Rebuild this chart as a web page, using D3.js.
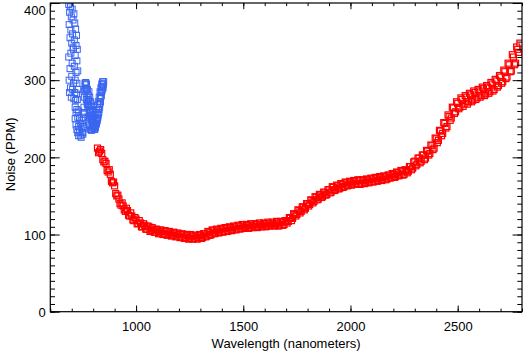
<!DOCTYPE html>
<html>
<head>
<meta charset="utf-8">
<script src="https://cdn.jsdelivr.net/npm/d3@7"></script>
<style>
  body { margin: 0; background: #fff; }
  svg { display: block; }
  text { font-family: "Liberation Sans", Arial, Helvetica, sans-serif; font-size: 13px; fill: #000; }
</style>
</head>
<body>
<div id="chart"></div>
<script>
// short-wavelength channel (blue): a scattered column, then the V
const blueWave = [
  686, 686, 688, 688, 690, 690, 692, 692, 694, 694, 696, 696, 698, 698, 700, 700, 702, 702,
  704, 704, 706, 706, 708, 708, 710, 710, 712, 712, 714, 714, 716, 716, 718, 718, 720, 720,
  722, 722, 724, 724, 726, 726, 728, 728,
  716, 716, 720, 720, 724, 724, 728, 728, 732, 732, 732, 736, 736, 740, 740, 744, 744,
  748, 748, 752, 752, 756, 756,
  751, 753, 755, 757, 759, 761, 763, 765, 767, 769, 771, 773, 775, 777, 779, 781, 783, 785, 787,
  789, 791, 793, 795, 797, 799, 801, 803, 805, 807, 809, 811, 813, 815, 817, 819, 821, 823, 825, 827,
  829, 831, 833, 835, 837, 839, 841, 843, 845, 847,
  754, 758, 762, 766, 770, 774, 778, 782, 786, 790, 794, 798, 802, 806, 810, 814, 818, 822, 826, 830,
  834, 838, 842, 846, 849,
  768, 772, 776, 780, 784, 788, 792, 796, 800, 804, 808, 812, 816, 820, 824, 828, 832, 836, 840, 844,
  776, 780, 784, 788, 792, 796];
const blueNoise = [
  398, 330, 372, 300, 388, 284, 355, 315, 395, 290, 365, 335, 382, 278, 348, 305, 392, 322,
  360, 288, 378, 342, 340, 296, 386, 276, 352, 318, 374, 284, 332, 300, 366, 274, 345, 310,
  358, 282, 325, 296, 340, 275, 312, 288,
  265, 250, 258, 242, 262, 236, 252, 232, 260, 240, 228, 250, 234, 244, 228, 238, 226,
  248, 232, 242, 230, 256, 238,
  232, 240, 252, 265, 278, 288, 294, 297, 290, 295, 282, 288, 275, 280, 268, 273, 262, 266, 255,
  260, 250, 254, 245, 249, 241, 245, 238, 242, 237, 243, 240, 246, 244, 250, 249, 256, 255, 262, 262,
  269, 270, 276, 278, 284, 285, 291, 292, 296, 294,
  258, 285, 296, 286, 288, 268, 272, 258, 260, 248, 250, 238, 240, 236, 238, 243, 247, 252, 258, 265,
  272, 280, 287, 290, 298,
  275, 270, 265, 285, 278, 272, 266, 262, 256, 252, 255, 258, 262, 268, 272, 278, 285, 290, 295, 298,
  252, 246, 242, 236, 235, 236];

// long-wavelength channel (red)
const redWave = [820, 830, 840, 850, 860, 870, 880, 890, 900, 910, 920, 930, 940, 950, 960, 970, 980, 990,
  1000, 1010, 1020, 1030, 1040, 1050, 1060, 1070, 1080, 1090, 1100, 1110, 1120, 1130, 1140, 1150, 1160, 1170, 1180, 1190,
  1200, 1210, 1220, 1230, 1240, 1250, 1260, 1270, 1280, 1290, 1300, 1310, 1320, 1330, 1340, 1350, 1360, 1370, 1380, 1390,
  1400, 1410, 1420, 1430, 1440, 1450, 1460, 1470, 1480, 1490, 1500, 1510, 1520, 1530, 1540, 1550, 1560, 1570, 1580, 1590,
  1600, 1610, 1620, 1630, 1640, 1650, 1660, 1670, 1680, 1690, 1700, 1710, 1720, 1730, 1740, 1750, 1760, 1770, 1780, 1790,
  1800, 1810, 1820, 1830, 1840, 1850, 1860, 1870, 1880, 1890, 1900, 1910, 1920, 1930, 1940, 1950, 1960, 1970, 1980, 1990,
  2000, 2010, 2020, 2030, 2040, 2050, 2060, 2070, 2080, 2090, 2100, 2110, 2120, 2130, 2140, 2150, 2160, 2170, 2180, 2190,
  2200, 2210, 2220, 2230, 2240, 2250, 2260, 2270, 2280, 2290, 2300, 2310, 2320, 2330, 2340, 2350, 2360, 2370, 2380, 2390,
  2400, 2410, 2420, 2430, 2440, 2450, 2460, 2470, 2480, 2490, 2500, 2510, 2520, 2530, 2540, 2550, 2560, 2570, 2580, 2590,
  2600, 2610, 2620, 2630, 2640, 2650, 2660, 2670, 2680, 2690, 2700, 2710, 2720, 2730, 2740, 2750, 2760, 2770, 2780, 2790];
const redNoise = [212, 208, 205, 194, 192, 181, 178, 167, 163, 150, 146, 138, 137, 130, 131, 124, 124, 118,
  120, 114, 115, 110, 112, 107, 110, 105, 107, 103, 106, 102, 104, 101, 104, 100, 102, 99, 102, 98,
  100, 97, 100, 96, 99, 95, 98, 95, 98, 96, 99, 96, 101, 98, 103, 100, 105, 102, 106, 103,
  107, 104, 108, 105, 109, 106, 110, 107, 111, 108, 111, 109, 112, 109, 112, 110, 113, 110, 113, 111,
  114, 111, 114, 112, 114, 112, 115, 112, 116, 113, 117, 117, 121, 121, 126, 126, 131, 130, 135, 134,
  140, 139, 144, 143, 148, 146, 151, 149, 154, 152, 158, 155, 161, 158, 163, 160, 165, 162, 167, 164,
  168, 165, 169, 166, 170, 166, 170, 167, 171, 168, 172, 169, 173, 170, 174, 171, 175, 172, 177, 174,
  178, 175, 180, 177, 182, 178, 183, 182, 188, 186, 195, 191, 199, 195, 203, 199, 208, 205, 215, 212,
  224, 222, 234, 231, 244, 240, 253, 251, 264, 259, 270, 265, 275, 269, 278, 272, 281, 274, 284, 277,
  286, 280, 289, 282, 291, 285, 295, 288, 299, 293, 304, 298, 311, 304, 320, 312, 330, 322, 340, 348];

// second pass of the red channel, interleaved wavelengths
const redWave2 = [825, 835, 845, 855, 865, 875, 885, 895, 905, 915, 925, 935, 945, 955, 965, 975, 985, 995,
  1005, 1015, 1025, 1035, 1045, 1055, 1065, 1075, 1085, 1095, 1105, 1115, 1125, 1135, 1145, 1155, 1165, 1175, 1185, 1195,
  1205, 1215, 1225, 1235, 1245, 1255, 1265, 1275, 1285, 1295, 1305, 1315, 1325, 1335, 1345, 1355, 1365, 1375, 1385, 1395,
  1405, 1415, 1425, 1435, 1445, 1455, 1465, 1475, 1485, 1495, 1505, 1515, 1525, 1535, 1545, 1555, 1565, 1575, 1585, 1595,
  1605, 1615, 1625, 1635, 1645, 1655, 1665, 1675, 1685, 1695, 1705, 1715, 1725, 1735, 1745, 1755, 1765, 1775, 1785, 1795,
  1805, 1815, 1825, 1835, 1845, 1855, 1865, 1875, 1885, 1895, 1905, 1915, 1925, 1935, 1945, 1955, 1965, 1975, 1985, 1995,
  2005, 2015, 2025, 2035, 2045, 2055, 2065, 2075, 2085, 2095, 2105, 2115, 2125, 2135, 2145, 2155, 2165, 2175, 2185, 2195,
  2205, 2215, 2225, 2235, 2245, 2255, 2265, 2275, 2285, 2295, 2305, 2315, 2325, 2335, 2345, 2355, 2365, 2375, 2385, 2395,
  2405, 2415, 2425, 2435, 2445, 2455, 2465, 2475, 2485, 2495, 2505, 2515, 2525, 2535, 2545, 2555, 2565, 2575, 2585, 2595,
  2605, 2615, 2625, 2635, 2645, 2655, 2665, 2675, 2685, 2695, 2705, 2715, 2725, 2735, 2745, 2755, 2765, 2775, 2785];
const redNoise2 = [206, 210, 197, 195, 183, 184, 169, 168, 153, 151, 140, 141, 132, 134, 125, 128, 119, 122,
  114, 118, 110, 114, 107, 111, 104, 109, 103, 107, 101, 106, 100, 105, 99, 104, 98, 103, 97, 102,
  96, 101, 95, 100, 94, 100, 94, 99, 94, 100, 95, 101, 97, 104, 99, 106, 101, 107, 102, 108,
  103, 109, 104, 110, 105, 111, 106, 112, 107, 113, 108, 113, 108, 114, 109, 114, 109, 115, 110, 115,
  110, 116, 111, 116, 111, 117, 111, 117, 112, 118, 115, 122, 118, 127, 124, 132, 128, 136, 132, 140,
  137, 145, 141, 149, 145, 152, 148, 155, 151, 158, 154, 162, 157, 164, 159, 166, 161, 168, 163, 169,
  164, 170, 165, 171, 165, 171, 166, 172, 167, 173, 168, 174, 169, 175, 170, 176, 171, 177, 173, 179,
  174, 181, 176, 183, 177, 184, 180, 188, 184, 194, 189, 199, 193, 203, 197, 209, 203, 216, 210, 225,
  219, 235, 228, 245, 238, 255, 248, 265, 257, 272, 263, 277, 266, 280, 269, 283, 272, 286, 275, 288,
  278, 291, 280, 293, 283, 297, 286, 301, 291, 306, 296, 313, 302, 322, 311, 333, 320, 343, 336];

const xTickValues = [1000, 1500, 2000, 2500];
const yTickValues = [0, 100, 200, 300, 400];
const xTitle = "Wavelength (nanometers)";
const yTitle = "Noise (PPM)";

const width = 525;
const height = 352;
const plot = { left: 50.3, right: 522, top: 3, bottom: 311.7 };

const x = d3.scaleLinear().domain([600, 2800]).range([plot.left, plot.right]);
const y = d3.scaleLinear().domain([0, 400]).range([plot.bottom, plot.top]);

const svg = d3.select("#chart")
  .append("svg")
  .attr("width", width)
  .attr("height", height);

svg.append("clipPath")
  .attr("id", "clip")
  .append("rect")
  .attr("x", plot.left)
  .attr("y", plot.top)
  .attr("width", plot.right - plot.left)
  .attr("height", plot.bottom - plot.top);

const marks = svg.append("g").attr("clip-path", "url(#clip)");
const sq = 6;

function drawSquares(waves, noise, color, sw) {
  marks.append("g")
    .selectAll("rect")
    .data(waves.map((w, i) => ({ w: w, v: noise[i] })))
    .enter()
    .append("rect")
    .attr("x", (d) => x(d.w) - sq / 2)
    .attr("y", (d) => y(d.v) - sq / 2)
    .attr("width", sq)
    .attr("height", sq)
    .attr("fill", "none")
    .attr("stroke", color)
    .attr("stroke-width", sw);
}

drawSquares(blueWave, blueNoise, "#3a66f0", 1);
drawSquares(redWave, redNoise, "#ff0000", 1.2);
drawSquares(redWave2, redNoise2, "#ff0000", 1.2);

// IDL-style ticks: inward, on all four sides
const xLen = 6.2, yLen = 9.4;
const fmt = d3.format("d");
function tidy(g) {
  g.select(".domain").remove();
  g.selectAll("line").attr("stroke", "#000").attr("stroke-width", 1);
}

svg.append("g")
  .attr("transform", `translate(0,${plot.bottom})`)
  .call(d3.axisBottom(x).tickValues(xTickValues).tickFormat(fmt).tickSize(-xLen).tickPadding(10))
  .call(tidy)
  .call((g) => g.selectAll("text").attr("font-size", 13).attr("font-family", null));
svg.append("g")
  .attr("transform", `translate(0,${plot.bottom})`)
  .call(d3.axisBottom(x).ticks(22).tickSize(-xLen / 2).tickFormat(""))
  .call(tidy);
svg.append("g")
  .attr("transform", `translate(0,${plot.top})`)
  .call(d3.axisTop(x).tickValues(xTickValues).tickSize(-xLen).tickFormat(""))
  .call(tidy);
svg.append("g")
  .attr("transform", `translate(0,${plot.top})`)
  .call(d3.axisTop(x).ticks(22).tickSize(-xLen / 2).tickFormat(""))
  .call(tidy);

svg.append("g")
  .attr("transform", `translate(${plot.left},0)`)
  .call(d3.axisLeft(y).tickValues(yTickValues).tickFormat(fmt).tickSize(-yLen).tickPadding(4.5))
  .call(tidy)
  .call((g) => g.selectAll("text").attr("font-size", 13).attr("font-family", null)
    .attr("dy", (d) => (d === 400 ? "0.85em" : "0.36em")));
svg.append("g")
  .attr("transform", `translate(${plot.left},0)`)
  .call(d3.axisLeft(y).ticks(40).tickSize(-yLen / 2).tickFormat(""))
  .call(tidy);
svg.append("g")
  .attr("transform", `translate(${plot.right},0)`)
  .call(d3.axisRight(y).tickValues(yTickValues).tickSize(-yLen).tickFormat(""))
  .call(tidy);
svg.append("g")
  .attr("transform", `translate(${plot.right},0)`)
  .call(d3.axisRight(y).ticks(40).tickSize(-yLen / 2).tickFormat(""))
  .call(tidy);

svg.append("rect")
  .attr("x", plot.left)
  .attr("y", plot.top)
  .attr("width", plot.right - plot.left)
  .attr("height", plot.bottom - plot.top)
  .attr("fill", "none")
  .attr("stroke", "#000")
  .attr("stroke-width", 1.2);

svg.append("text")
  .attr("x", (plot.left + plot.right) / 2)
  .attr("y", 347.5)
  .attr("text-anchor", "middle")
  .attr("font-size", 13.5)
  .text(xTitle);

svg.append("text")
  .attr("transform", `translate(15,${(plot.top + plot.bottom) / 2 - 3}) rotate(-90)`)
  .attr("text-anchor", "middle")
  .attr("font-size", 13.5)
  .text(yTitle);
</script>
</body>
</html>
